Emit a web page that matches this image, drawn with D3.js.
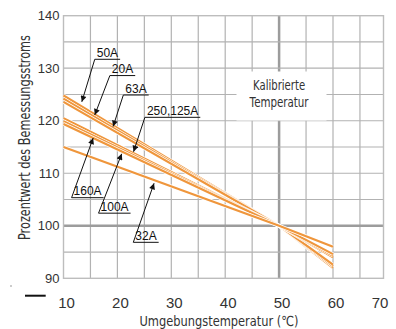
<!DOCTYPE html>
<html>
<head>
<meta charset="utf-8">
<script src="https://cdn.jsdelivr.net/npm/d3@7"></script>
<style>
  body { margin: 0; background: #fff; }
  svg { display: block; }
</style>
</head>
<body>
<div id="chart"></div>
<script>
// temperature points (°C) where each curve is given
var temps = [10, 50, 60];

// percentage of rated current, one list per breaker size
var names = ["50A", "20A", "63A", "250,125A", "160A", "100A", "32A"];
var curve50A = [124.8, 100, 92.0];
var curve20A = [124.2, 100, 92.3];
var curve63A = [123.6, 100, 92.6];
var curve250A = [120.5, 100, 94.0];
var curve160A = [119.9, 100, 94.3];
var curve100A = [119.4, 100, 94.6];
var curve32A = [115.0, 100, 96.0];
var curves = [curve50A, curve20A, curve63A, curve250A, curve160A, curve100A, curve32A];

var xTicks = [10, 20, 30, 40, 50, 60, 70];
var yTicks = [90, 100, 110, 120, 130, 140];

// callouts: arrow tip [°C, %] and label corner [°C, %] in data units
var calloutTip = [[13.4, 123.6], [15.8, 121.1], [19.2, 118.9], [23.0, 114.1], [15.5, 116.7], [20.8, 113.7], [26.8, 108.1]];
var calloutAt = [[15.8, 131.7], [18.6, 128.6], [21.1, 124.9], [25.1, 120.65], [11.5, 105.35], [16.5, 102.4], [22.95, 96.85]];

function chart() {
  var w = 396;
  var h = 329;
  var left = 63.5, top = 15.7, right = 383.5, bottom = 278.3;

  var svg = d3.select("#chart")
    .append("svg")
    .attr("width", w)
    .attr("height", h);

  var x = d3.scaleLinear().domain([10, 70]).range([left, left + 60 * 5.39]);
  var y = d3.scaleLinear().domain([90, 140]).range([bottom, top]);

  var orange = "#EF963C";
  var grid = "#b2b2b2";

  // arrowhead
  svg.append("defs").append("marker")
    .attr("id", "arr")
    .attr("viewBox", "0 0 10 10")
    .attr("refX", 10).attr("refY", 5)
    .attr("markerWidth", 8).attr("markerHeight", 6)
    .attr("markerUnits", "userSpaceOnUse")
    .attr("orient", "auto")
    .append("path").attr("d", "M0,0L10,5L0,10z").attr("fill", "#111");

  // grid every 5 units
  var g = svg.append("g");
  var vx = d3.range(15, 70, 5);
  g.selectAll(".vx").data(vx).enter().append("line")
    .attr("x1", d => x(d)).attr("x2", d => x(d))
    .attr("y1", top).attr("y2", bottom)
    .attr("stroke", d => d === 50 ? "#9c9c9c" : grid)
    .attr("stroke-width", d => d === 50 ? 2.5 : 1.2);
  var hy = d3.range(95, 140, 5);
  g.selectAll(".hy").data(hy).enter().append("line")
    .attr("x1", left).attr("x2", right)
    .attr("y1", d => y(d)).attr("y2", d => y(d))
    .attr("stroke", d => d === 100 ? "#9c9c9c" : grid)
    .attr("stroke-width", d => d === 100 ? 2.5 : 1.2);

  // frame
  g.append("rect")
    .attr("x", left).attr("y", top)
    .attr("width", right - left).attr("height", bottom - top)
    .attr("fill", "none").attr("stroke", "#bdbdbd").attr("stroke-width", 1.4);

  // label box over the grid
  svg.append("rect")
    .attr("x", 236.5).attr("y", 71.5)
    .attr("width", 90).attr("height", 49)
    .attr("fill", "#fff");
  svg.append("text")
    .attr("x", x(50)).attr("y", 90)
    .attr("text-anchor", "middle")
    .attr("textLength", 52).attr("lengthAdjust", "spacingAndGlyphs")
    .style("font", "14px 'Liberation Sans Narrow', 'DejaVu Sans', sans-serif")
    .attr("fill", "#333")
    .text("Kalibrierte");
  svg.append("text")
    .attr("x", x(50)).attr("y", 107)
    .attr("text-anchor", "middle")
    .attr("textLength", 59).attr("lengthAdjust", "spacingAndGlyphs")
    .style("font", "14px 'Liberation Sans Narrow', 'DejaVu Sans', sans-serif")
    .attr("fill", "#333")
    .text("Temperatur");

  // curves
  var line = d3.line().x((d, i) => x(temps[i])).y(d => y(d));
  var cg = svg.append("g").attr("fill", "none");
  curves.forEach(function (c) {
    cg.append("path").attr("d", line(c))
      .attr("stroke", "#fff").attr("stroke-width", 3.6);
    cg.append("path").attr("d", line(c))
      .attr("stroke", orange).attr("stroke-width", 2.2);
  });

  // callouts
  var ag = svg.append("g");
  names.forEach(function (n, i) {
    var tx = x(calloutTip[i][0]), ty = y(calloutTip[i][1]);
    var cx = x(calloutAt[i][0]), cy = y(calloutAt[i][1]);
    var t = ag.append("text")
      .attr("x", cx + 2).attr("y", cy - 2.5)
      .style("font", "12px 'Liberation Sans', Arial, sans-serif")
      .attr("fill", "#111")
      .text(n);
    var tw = t.node().getComputedTextLength();
    ag.append("line")
      .attr("x1", cx).attr("x2", cx + tw + 4)
      .attr("y1", cy).attr("y2", cy)
      .attr("stroke", "#111").attr("stroke-width", 1);
    ag.append("line")
      .attr("x1", cx).attr("y1", cy)
      .attr("x2", tx).attr("y2", ty)
      .attr("stroke", "#111").attr("stroke-width", 1)
      .attr("marker-end", "url(#arr)");
  });

  // y tick labels
  svg.append("g").selectAll("text").data(yTicks).enter().append("text")
    .attr("x", 59.5).attr("y", d => y(d) + 4.5)
    .attr("text-anchor", "end")
    .style("font", "13px 'Liberation Sans', Arial, sans-serif")
    .attr("fill", "#333")
    .text(d => d);

  // x tick labels
  svg.append("g").selectAll("text").data(xTicks).enter().append("text")
    .attr("x", d => d === 70 ? x(d) + 1.5 : x(d) + 3)
    .attr("y", 307.5)
    .attr("text-anchor", d => d === 70 ? "end" : "middle")
    .style("font", "15px 'Liberation Sans', Arial, sans-serif")
    .attr("fill", "#333")
    .text(d => d);

  // axis titles
  svg.append("text")
    .attr("x", 219).attr("y", 325.5)
    .attr("text-anchor", "middle")
    .attr("textLength", 159).attr("lengthAdjust", "spacingAndGlyphs")
    .style("font", "14px 'Liberation Sans Narrow', 'DejaVu Sans', sans-serif")
    .attr("fill", "#333")
    .text("Umgebungstemperatur (℃)");
  svg.append("text")
    .attr("transform", "translate(30,137.5) rotate(-90)")
    .attr("text-anchor", "middle")
    .attr("textLength", 205).attr("lengthAdjust", "spacingAndGlyphs")
    .style("font", "15px 'Liberation Sans Narrow', 'DejaVu Sans', sans-serif")
    .attr("fill", "#333")
    .text("Prozentwert des Bemessungsstroms");

  // stray marks in the original scan
  svg.append("line")
    .attr("x1", 25).attr("x2", 45.7).attr("y1", 295.7).attr("y2", 295.7)
    .attr("stroke", "#111").attr("stroke-width", 2);
  svg.append("line")
    .attr("x1", 10).attr("x2", 12).attr("y1", 286).attr("y2", 286)
    .attr("stroke", "#999").attr("stroke-width", 1);
}

chart();
</script>
</body>
</html>
